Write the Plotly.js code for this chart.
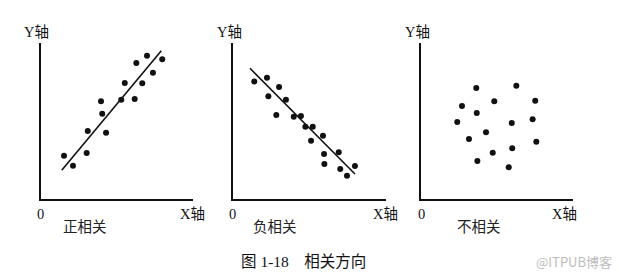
<!DOCTYPE html>
<html>
<head>
<meta charset="utf-8">
<script src="https://cdn.plot.ly/plotly-3.0.1.min.js"></script>
<style>html,body{margin:0;padding:0;background:#fff;}#chart{width:619px;height:274px;}</style>
</head>
<body>
<div id="chart"></div>
<script>
// Panel 1: positive correlation
var posX = [1.53, 2.12, 3.02, 3.09, 3.96, 4.04, 4.29, 5.29, 5.52, 6.17, 6.28, 6.67, 6.98, 7.37, 7.98];
var posY = [2.78, 2.13, 2.95, 4.36, 6.26, 5.47, 4.25, 6.37, 7.44, 6.41, 8.72, 7.42, 9.19, 8.10, 8.96];
var posLineX = [1.38, 7.92];
var posLineY = [1.84, 9.51];
// Panel 2: negative correlation
var negX = [1.41, 2.24, 2.33, 3.03, 2.85, 3.48, 3.99, 4.46, 4.75, 5.23, 5.12, 5.90, 5.97, 5.99, 6.93, 7.03, 7.47, 7.99];
var negY = [7.54, 7.78, 6.58, 7.18, 5.38, 6.37, 5.28, 5.32, 4.63, 4.63, 3.74, 4.06, 2.88, 2.24, 2.99, 1.92, 1.49, 2.12];
var negLineX = [1.13, 7.99];
var negLineY = [8.38, 1.60];
// Panel 3: no correlation
var noneX = [3.63, 6.26, 2.69, 4.81, 7.50, 3.66, 2.38, 5.96, 7.33, 4.27, 3.15, 7.57, 5.99, 4.71, 3.70, 5.76];
var noneY = [7.12, 7.26, 5.96, 6.26, 6.30, 5.51, 4.94, 4.87, 5.11, 4.28, 3.85, 3.67, 3.25, 2.97, 2.44, 2.03];

var panelLabels = ['正相关', '负相关', '不相关'];
var axisYLabel = 'Y轴';
var axisXLabel = 'X轴';
var originLabel = '0';
var caption = '图 1-18\u00a0\u00a0\u00a0\u00a0相关方向';
var watermark = '@ITPUB博客';

var W = 619, H = 274;
function px(x) { return x / W; }
function py(y) { return 1 - y / H; }

var serif = '"Liberation Serif", "Times New Roman", "Noto Sans CJK SC", serif';
var mk = {color: '#111', size: 6};
var ln = {color: '#111', width: 1.6};

var traces = [
  {x: posX, y: posY, mode: 'markers', marker: mk, xaxis: 'x', yaxis: 'y'},
  {x: posLineX, y: posLineY, mode: 'lines', line: ln, xaxis: 'x', yaxis: 'y'},
  {x: negX, y: negY, mode: 'markers', marker: mk, xaxis: 'x2', yaxis: 'y2'},
  {x: negLineX, y: negLineY, mode: 'lines', line: ln, xaxis: 'x2', yaxis: 'y2'},
  {x: noneX, y: noneY, mode: 'markers', marker: mk, xaxis: 'x3', yaxis: 'y3'}
];

function ax(domain, anchor) {
  return {domain: domain, anchor: anchor, range: [0, 10], showline: true, linecolor: '#111',
    linewidth: 2.2, showgrid: false, zeroline: false, showticklabels: false, ticks: '', fixedrange: true};
}
var yDom = [py(199), py(43)];
var panels = [[40.7, 193], [232.7, 385.7], [421, 573.3]];

var layout = {
  width: W, height: H, margin: {l: 0, r: 0, t: 0, b: 0},
  paper_bgcolor: '#fff', plot_bgcolor: 'rgba(0,0,0,0)', showlegend: false,
  xaxis: ax([px(panels[0][0]), px(panels[0][1])], 'y'),
  yaxis: ax(yDom, 'x'),
  xaxis2: ax([px(panels[1][0]), px(panels[1][1])], 'y2'),
  yaxis2: ax(yDom, 'x2'),
  xaxis3: ax([px(panels[2][0]), px(panels[2][1])], 'y3'),
  yaxis3: ax(yDom, 'x3'),
  annotations: []
};

var labelCenters = [85, 275, 479];
var yLabelCenters = [36, 229, 417];
var xLabelCenters = [192, 385, 564];
for (var i = 0; i < 3; i++) {
  var f = {family: serif, size: 14.5, color: '#111'};
  layout.annotations.push({xref: 'paper', yref: 'paper', x: px(yLabelCenters[i]), y: py(32), text: axisYLabel, showarrow: false, font: f, xanchor: 'center', yanchor: 'middle'});
  layout.annotations.push({xref: 'paper', yref: 'paper', x: px(xLabelCenters[i]), y: py(214), text: axisXLabel, showarrow: false, font: f, xanchor: 'center', yanchor: 'middle'});
  layout.annotations.push({xref: 'paper', yref: 'paper', x: px(panels[i][0]), y: py(214), text: originLabel, showarrow: false, font: f, xanchor: 'center', yanchor: 'middle'});
  layout.annotations.push({xref: 'paper', yref: 'paper', x: px(labelCenters[i]), y: py(227), text: panelLabels[i], showarrow: false, font: {family: serif, size: 14.5, color: '#222'}, xanchor: 'center', yanchor: 'middle'});
}
layout.annotations.push({xref: 'paper', yref: 'paper', x: px(303.5), y: py(261), text: caption, showarrow: false, font: {family: serif, size: 15.5, color: '#111'}, xanchor: 'center', yanchor: 'middle'});
layout.annotations.push({xref: 'paper', yref: 'paper', x: px(574), y: py(261), text: watermark, showarrow: false, font: {family: '"Noto Sans CJK SC", "Noto Sans", sans-serif', size: 13, color: '#bdbdbd'}, xanchor: 'center', yanchor: 'middle'});

Plotly.newPlot('chart', traces, layout, {staticPlot: true, displayModeBar: false});
</script>
</body>
</html>
